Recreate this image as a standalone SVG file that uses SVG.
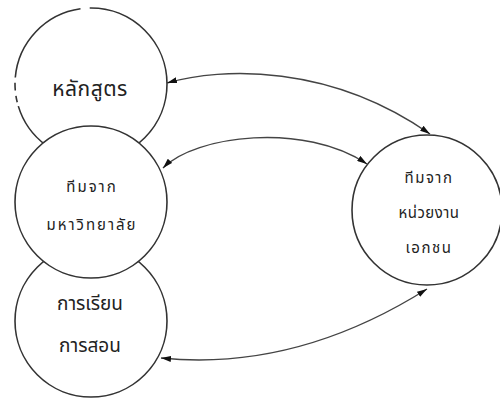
<svg xmlns="http://www.w3.org/2000/svg" width="500" height="401" viewBox="0 0 500 401">
<style>
.c{fill:#fff;stroke:#333;stroke-width:1.6}
.t{font-family:"Noto Sans Thai","Noto Sans","DejaVu Sans",sans-serif;fill:#222;text-anchor:middle}
.s{font-size:15px;letter-spacing:2px}
.e{fill:none;stroke:#444;stroke-width:1.4;marker-start:url(#ah);marker-end:url(#ah)}
</style>
<defs>
<marker id="ah" viewBox="0 0 10 6" refX="10" refY="3" markerWidth="10" markerHeight="6" markerUnits="userSpaceOnUse" orient="auto-start-reverse">
<path d="M0,0 L10,3 L0,6 Z" fill="#111"/>
</marker>
</defs>
<rect width="500" height="401" fill="#fff"/>
<g id="n-curriculum">
<circle class="c" cx="91" cy="84" r="76" pathLength="360" stroke-dasharray="163 3 5 4 6 4 77 7 91 0"/>
<text class="t" x="90" y="96" font-size="21" letter-spacing="0.5">หลักสูตร</text>
</g>
<g id="n-teaching">
<circle class="c" cx="91" cy="321" r="76"/>
<text class="t" x="90" y="310" font-size="19">การเรียน</text>
<text class="t" x="90" y="352" font-size="19">การสอน</text>
</g>
<g id="n-university">
<circle class="c" cx="91" cy="202" r="76"/>
<text class="t s" x="92" y="192" letter-spacing="4">ทีมจาก</text>
<text class="t s" x="92" y="230">มหาวิทยาลัย</text>
</g>
<g id="n-private">
<circle class="c" cx="427" cy="210" r="75"/>
<text class="t s" x="429" y="183" style="letter-spacing:1.5px">ทีมจาก</text>
<text class="t s" x="429" y="218" style="letter-spacing:0.5px">หน่วยงาน</text>
<text class="t s" x="429" y="253" style="letter-spacing:1.5px">เอกชน</text>
</g>
<g id="edges">
<path class="e" d="M167,83 C222,67 330,64 430,134"/>
<path class="e" d="M163,168 C195,135 305,122 367,164"/>
<path class="e" d="M161,358 C240,366 330,350 427,289"/>
</g>
</svg>
